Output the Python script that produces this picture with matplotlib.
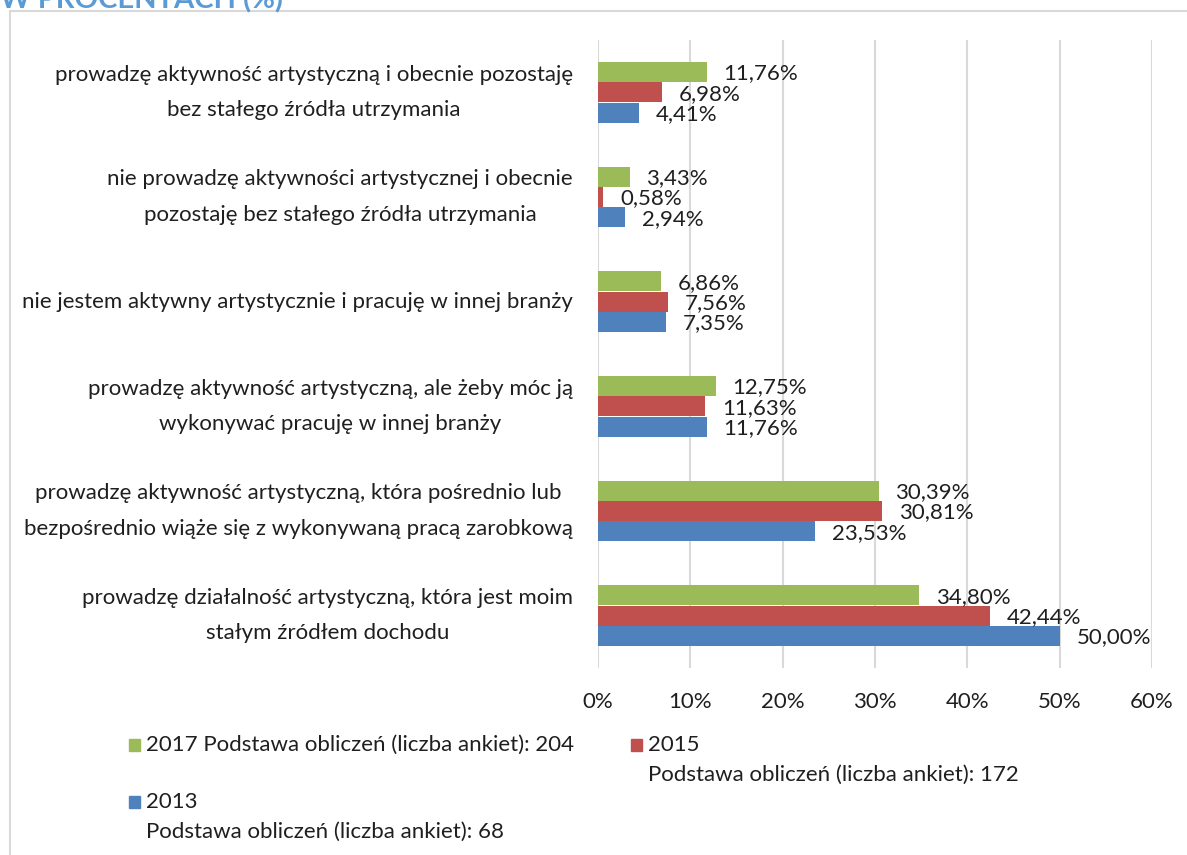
import matplotlib.pyplot as plt
import numpy as np
from matplotlib.patches import Rectangle

plt.rcParams['font.family'] = ['Lato', 'DejaVu Sans']

categories = [
    "prowadzę działalność artystyczną, która jest moim\nstałym źródłem dochodu",
    "prowadzę aktywność artystyczną, która pośrednio lub\nbezpośrednio wiąże się z wykonywaną pracą zarobkową",
    "prowadzę aktywność artystyczną, ale żeby móc ją\nwykonywać pracuję w innej branży",
    "nie jestem aktywny artystycznie i pracuję w innej branży",
    "nie prowadzę aktywności artystycznej i obecnie\npozostaję bez stałego źródła utrzymania",
    "prowadzę aktywność artystyczną i obecnie pozostaję\nbez stałego źródła utrzymania",
]
values_2017 = [34.80, 30.39, 12.75, 6.86, 3.43, 11.76]
values_2015 = [42.44, 30.81, 11.63, 7.56, 0.58, 6.98]
values_2013 = [50.00, 23.53, 11.76, 7.35, 2.94, 4.41]
xticks = [0, 10, 20, 30, 40, 50, 60]

series = [
    ("2013", values_2013, "#4F81BD", -1),
    ("2015", values_2015, "#C0504D", 0),
    ("2017", values_2017, "#9BBB59", 1),
]

FS = 16
TXT = "#1f1f1f"

W, H = 1187, 855
fig = plt.figure(figsize=(W / 100, H / 100), dpi=100)
ax = fig.add_axes([598 / W, 1 - 668 / H, (1152 - 598) / W, (668 - 40) / H])

y = np.arange(len(categories))
h = 0.19
for name, vals, color, k in series:
    bars = ax.barh(y + k * h * 1.02, vals, height=h, color=color, zorder=3)
    for b, v in zip(bars, vals):
        ax.annotate(f"{v:.2f}%".replace(".", ","),
                    (b.get_width(), b.get_y() + b.get_height() / 2),
                    xytext=(12, -1), textcoords="offset points",
                    va="center", ha="left", fontsize=FS, color=TXT)

ax.set_xlim(0, 60)
ax.set_ylim(-0.5, len(categories) - 0.5)
ax.set_xticks(xticks)
ax.set_xticklabels([f"{t}%" for t in xticks], fontsize=FS, color=TXT)
ax.set_yticks(y)
ax.set_yticklabels(categories, fontsize=FS, color=TXT,
                   multialignment="center", linespacing=1.95)
for lbl in ax.get_yticklabels():
    lbl.set_va("center")
ax.tick_params(length=0, axis="y", pad=18)
ax.tick_params(length=0, axis="x", pad=17)
ax.grid(axis="x", color="#d9d9d9", linewidth=1.5, zorder=0)
for s in ax.spines.values():
    s.set_visible(False)

# outer frame and clipped title
fig.add_artist(Rectangle((10 / W, -0.1), 1.2, 1.1 - 11 / H, transform=fig.transFigure,
                         fill=False, edgecolor="#d9d9d9", linewidth=1.5))
fig.text(0.0, 1.0, "W PROCENTACH (%)", fontsize=21, fontweight="bold",
         color="#5B9BD5", ha="left", va="center")

# legend
legend_items = [
    ("#9BBB59", 129, 745, ["2017 Podstawa obliczeń (liczba ankiet): 204"]),
    ("#C0504D", 631, 745, ["2015", "Podstawa obliczeń (liczba ankiet): 172"]),
    ("#4F81BD", 129, 802, ["2013", "Podstawa obliczeń (liczba ankiet): 68"]),
]
for color, px, py, lines in legend_items:
    fig.add_artist(Rectangle((px / W, 1 - (py + 6) / H), 11 / W, 12 / H,
                             transform=fig.transFigure, color=color))
    for i, line in enumerate(lines):
        fig.text((px + 17) / W, 1 - (py + 30 * i) / H, line, fontsize=FS,
                 color=TXT, ha="left", va="center")

fig.savefig("out.png", dpi=100)
